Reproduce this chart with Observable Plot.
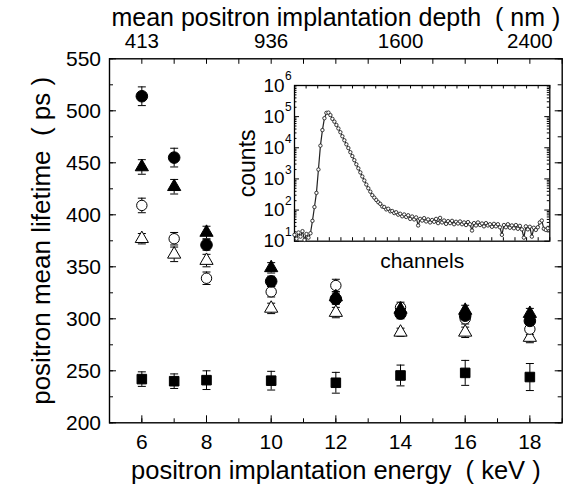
<!DOCTYPE html>
<html><head><meta charset="utf-8">
<script src="https://cdn.jsdelivr.net/npm/d3@7"></script>
<script src="https://cdn.jsdelivr.net/npm/@observablehq/plot@0.6"></script>
<style>
body{margin:0;background:#fff;}
#wrap{position:relative;width:567px;height:487px;}
#main,#inset{position:absolute;}
#main{left:0;top:0;width:567px;height:487px;}
#inset{left:238px;top:79px;}
svg{background:transparent !important;max-width:none !important;}
</style></head><body><div id="wrap"><div id="main"></div><div id="inset"></div></div>
<script>
// ---- main chart data ----
const energies = [6, 7, 8, 10, 12, 14, 16, 18];
const filledCircle = [514, 455, 371, 336, 319, 305, 303, 298];
const filledCircleErr = [9, 9, 5, 5, 5, 5, 5, 5];
const filledTriangle = [446, 427, 383, 349, 321, 309, 308, 305];
const filledTriangleErr = [7, 7, 6, 5, 5, 5, 5, 5];
const openCircle = [409, 377, 339, 326, 332, 311, 300, 290];
const openCircleErr = [7, 6, 6, 5, 6, 5, 5, 5];
const openTriangle = [377, 362, 356, 310, 306, 287, 287, 282];
const openTriangleErr = [5, 7, 6, 5, 5, 4, 5, 5];
const square = [242, 240, 241, 240.5, 238.5, 245.5, 248, 244];
const squareErr = [7, 7, 9, 9, 10, 10, 12, 13];

const bottomTickLabels = [6, 8, 10, 12, 14, 16, 18];
const topTickEnergies = [6, 10, 14, 18];
const topTickLabels = ["413", "936", "1600", "2400"];
const yTickLabels = [200, 250, 300, 350, 400, 450, 500, 550];

const xTitle = "positron implantation energy  ( keV )";
const topTitle = "mean positron implantation depth  ( nm )";
const yTitle = "positron mean lifetime  ( ps )";

// ---- inset data (counts per channel) ----
const insetCounts = [16,12,19,14,21,11,17,13,18,45,125,355,2000,11700,37000,89000,132000,135000,112000,85000,
69000,54000,41700,31600,23400,17400,12900,9800,7200,5400,4000,2950,2190,1620,1200,890,660,500,390,300,
250,210,178,158,130,125,105,110,91,93,80,85,71,76,63,72,60,68,52,62,
50,58,32,52,46,55,43,50,40,48,42,52,38,56,40,46,36,44,38,45,
35,42,37,43,35,40,33,41,35,22,38,32,40,33,37,30,38,32,35,29,
36,30,35,28,16,33,28,35,27,32,26,33,25,31,24,13,30,24,29,14,
27,23,28,40,46,25,23,26];
const insetDecades = [10, 100, 1000, 10000, 100000, 1000000];
const insetExponents = ["1", "2", "3", "4", "5", "6"];
const insetYLabel = "counts";
const insetXLabel = "channels";

const FONT = "Liberation Sans, Arial, Helvetica, sans-serif";

// ---- build main ----
const W = 567, H = 487;
const mL = 109, mR = 5.3, mT = 58.3, mB = 64.7;
const FW = W - mL - mR, FH = H - mT - mB;

function series(vals, errs, kind) {
  return energies.map((e, i) => ({e, v: vals[i], err: errs[i], kind}));
}
const sFC = series(filledCircle, filledCircleErr, "fc");
const sFT = series(filledTriangle, filledTriangleErr, "ft");
const sOC = series(openCircle, openCircleErr, "oc");
const sOT = series(openTriangle, openTriangleErr, "ot");
const sSQ = series(square, squareErr, "sq");
const all = [...sSQ, ...sOT, ...sOC, ...sFT, ...sFC];

const cap = {draw(ctx) { ctx.moveTo(-4, 0); ctx.lineTo(4, 0); }};

const yMinor = d3.range(200, 551, 25);
const xMinor = d3.range(5, 19.01, 1);

function markers(data, symbol, r, filled) {
  return Plot.dot(data, {x: "e", y: "v", symbol, r, fill: filled ? "black" : "white", stroke: "black", strokeWidth: 1});
}

const main = Plot.plot({
  width: W, height: H,
  marginLeft: mL, marginRight: mR, marginTop: mT, marginBottom: mB,
  style: {fontFamily: FONT, background: "transparent", overflow: "visible"},
  x: {domain: [5, 19], axis: null},
  y: {domain: [200, 550], axis: null},
  marks: [
    // inward ticks
    Plot.tickY(yMinor, {y: d => d, insetRight: FW - 4, stroke: "black"}),
    Plot.tickY(yTickLabels, {y: d => d, insetRight: FW - 7, stroke: "black"}),
    Plot.tickY(yMinor, {y: d => d, insetLeft: FW - 4, stroke: "black"}),
    Plot.tickY(yTickLabels, {y: d => d, insetLeft: FW - 7, stroke: "black"}),
    Plot.tickX(xMinor, {x: d => d, insetTop: FH - 4, stroke: "black"}),
    Plot.tickX(bottomTickLabels, {x: d => d, insetTop: FH - 7, stroke: "black"}),
    Plot.tickX(xMinor, {x: d => d, insetBottom: FH - 5.5, stroke: "black"}),
    Plot.frame({stroke: "black", strokeWidth: 1.4}),
    // tick labels
    Plot.text(yTickLabels, {y: d => d, text: d => String(d), frameAnchor: "left", textAnchor: "end", lineAnchor: "middle", dx: -8.5, fontSize: 21}),
    Plot.text(bottomTickLabels, {x: d => d, text: d => String(d), frameAnchor: "bottom", textAnchor: "middle", lineAnchor: "middle", dy: 19, fontSize: 21}),
    Plot.text(topTickEnergies, {x: d => d, text: (d, i) => topTickLabels[i], frameAnchor: "top", textAnchor: "middle", lineAnchor: "middle", dy: -17.5, fontSize: 20.5}),
    // titles
    Plot.text([xTitle], {text: d => d, frameAnchor: "bottom", textAnchor: "middle", lineAnchor: "middle", dy: 48.5, fontSize: 25.5}),
    Plot.text([topTitle], {text: d => d, frameAnchor: "top", textAnchor: "middle", lineAnchor: "middle", dy: -41, fontSize: 25}),
    Plot.text([yTitle], {text: d => d, frameAnchor: "left", textAnchor: "middle", lineAnchor: "middle", dx: -68, rotate: -90, fontSize: 26}),
    // error bars
    Plot.ruleX(all, {x: "e", y1: d => d.v - d.err, y2: d => d.v + d.err, stroke: "black", strokeWidth: 1}),
    Plot.dot(all, {x: "e", y: d => d.v - d.err, symbol: cap, r: 1, stroke: "black", fill: "none", strokeWidth: 1}),
    Plot.dot(all, {x: "e", y: d => d.v + d.err, symbol: cap, r: 1, stroke: "black", fill: "none", strokeWidth: 1}),
    // markers
    markers(sSQ, "square", 5.4, true),
    markers(sOT, "triangle", 4.9, false),
    markers(sOC, "circle", 5.2, false),
    markers(sFT, "triangle", 4.9, true),
    markers(sFC, "circle", 5.8, true)
  ]
});
document.getElementById("main").appendChild(main);

// ---- build inset ----
const iL = 56, iR = 6, iT = 6, iB = 34;
const IW = 255.3, IH = 155.7;
const CH_MAX = 1100;
const insetData = insetCounts.map((c, i) => ({ch: i * CH_MAX / insetCounts.length, c}));
const logMinor = [];
for (const d of insetDecades.slice(0, -1)) for (let m = 2; m <= 9; m++) logMinor.push(d * m);
const chTicks = d3.range(0, CH_MAX + 1, 50);

const inset = Plot.plot({
  width: iL + IW + iR, height: iT + IH + iB,
  marginLeft: iL, marginRight: iR, marginTop: iT, marginBottom: iB,
  style: {fontFamily: FONT, background: "transparent", overflow: "visible"},
  x: {domain: [0, CH_MAX], axis: null},
  y: {type: "log", domain: [10, 1e6], axis: null},
  marks: [
    Plot.tickY(logMinor, {y: d => d, insetRight: IW - 2.5, stroke: "black"}),
    Plot.tickY(insetDecades, {y: d => d, insetRight: IW - 5, stroke: "black"}),
    Plot.tickY(logMinor, {y: d => d, insetLeft: IW - 2.5, stroke: "black"}),
    Plot.tickY(insetDecades, {y: d => d, insetLeft: IW - 5, stroke: "black"}),
    Plot.tickX(chTicks, {x: d => d, insetTop: IH - 3.5, stroke: "black"}),
    Plot.tickX(chTicks, {x: d => d, insetBottom: IH - 3.5, stroke: "black"}),
    Plot.frame({stroke: "black", strokeWidth: 1.3}),
    Plot.text(insetDecades, {y: d => d, text: () => "10", frameAnchor: "left", textAnchor: "end", lineAnchor: "middle", dx: -10, fontSize: 19}),
    Plot.text(insetDecades, {y: d => d, text: (d, i) => insetExponents[i], frameAnchor: "left", textAnchor: "start", lineAnchor: "middle", dx: -9.5, dy: -9, fontSize: 12}),
    Plot.text([insetYLabel], {text: d => d, frameAnchor: "left", textAnchor: "middle", lineAnchor: "middle", dx: -47, rotate: -90, fontSize: 23}),
    Plot.text([insetXLabel], {text: d => d, frameAnchor: "bottom", textAnchor: "middle", lineAnchor: "middle", dy: 20, fontSize: 21}),
    Plot.line(insetData, {x: "ch", y: "c", stroke: "#222", strokeWidth: 1.2}),
    Plot.dot(insetData, {x: "ch", y: "c", r: 1.7, stroke: "#222", fill: "white", strokeWidth: 0.9})
  ]
});
document.getElementById("inset").appendChild(inset);
</script></body></html>
